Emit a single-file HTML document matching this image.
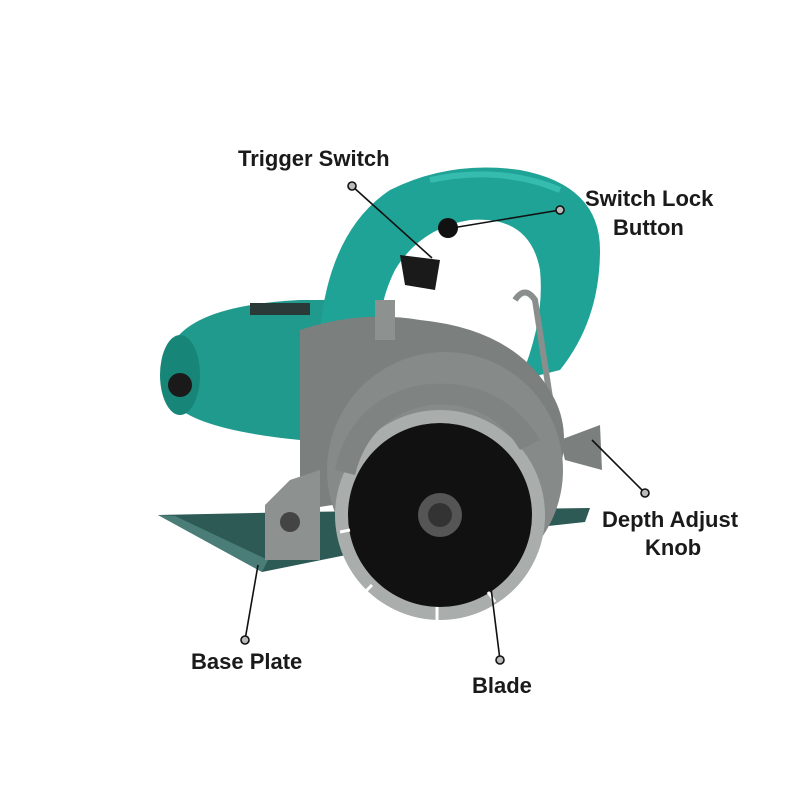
<!DOCTYPE html>
<html><head><meta charset="utf-8"><style>
html,body{margin:0;padding:0;background:#fff;}
svg{display:block}
text{font-family:"Liberation Sans",sans-serif;font-weight:bold;font-size:22px;fill:#1a1a1a}
</style></head><body>
<svg width="800" height="800" viewBox="0 0 800 800" xmlns="http://www.w3.org/2000/svg">
<polygon points="158,515 300,512 590,508 585,522 420,540 262,572" fill="#2d5a55"/>
<polygon points="158,515 262,572 268,560 175,516" fill="#4a7d77"/>
<path d="M175,340 Q200,305 300,300 L370,300 L390,420 L300,440 Q200,430 175,405 Z" fill="#1f9a8c"/>
<ellipse cx="180" cy="375" rx="20" ry="40" fill="#178578"/>
<circle cx="180" cy="385" r="12" fill="#1a1a1a"/>
<rect x="250" y="303" width="60" height="12" fill="#2a3a38"/>
<path d="M320,330 Q330,230 390,190 Q450,160 520,170 Q600,185 600,250 Q600,320 560,370 L520,380 Q545,320 540,270 Q530,215 470,220 Q420,228 395,270 Q380,300 380,330 Z" fill="#1fa396"/>
<path d="M430,180 Q500,165 560,190" stroke="#36bcae" stroke-width="6" fill="none"/>
<path d="M400,255 L440,260 L435,290 L405,285 Z" fill="#1a1a1a"/>
<circle cx="448" cy="228" r="10" fill="#111"/>
<path d="M515,300 Q525,285 535,300 L555,430" stroke="#8a8f8e" stroke-width="6" fill="none"/>
<path d="M300,330 Q360,310 420,320 Q520,330 555,400 Q570,430 560,470 L300,510 Z" fill="#7b7f7e"/>
<path d="M265,505 L290,480 L320,470 L320,560 L265,560 Z" fill="#8d9190"/>
<circle cx="290" cy="522" r="10" fill="#444"/>
<path d="M375,300 L395,300 L395,340 L375,340 Z" fill="#8d9190"/>
<circle cx="445" cy="470" r="118" fill="#868a89"/>
<path d="M560,440 L600,425 L602,470 L565,460 Z" fill="#7b7f7e"/>
<circle cx="440" cy="515" r="105" fill="#a9adac"/>
<circle cx="440" cy="515" r="92" fill="#111"/>
<g stroke="#fff" stroke-width="3">
<line x1="350" y1="530" x2="340" y2="532"/>
<line x1="372" y1="585" x2="365" y2="592"/>
<line x1="437" y1="607" x2="437" y2="620"/>
<line x1="488" y1="592" x2="495" y2="602"/>
</g>
<circle cx="440" cy="515" r="22" fill="#555"/>
<circle cx="440" cy="515" r="12" fill="#333"/>
<path d="M335,470 Q350,400 420,385 Q500,375 540,440 L520,450 Q490,400 430,405 Q370,415 355,475 Z" fill="#7f8382"/>
<g stroke="#111" stroke-width="1.6" fill="#bbb">
<line x1="352" y1="186" x2="432" y2="258"/>
<line x1="560" y1="210" x2="452" y2="228"/>
<line x1="645" y1="493" x2="592" y2="440"/>
<line x1="245" y1="640" x2="258" y2="565"/>
<line x1="500" y1="660" x2="490" y2="580"/>
<circle cx="352" cy="186" r="4"/>
<circle cx="560" cy="210" r="4"/>
<circle cx="645" cy="493" r="4"/>
<circle cx="245" cy="640" r="4"/>
<circle cx="500" cy="660" r="4"/>
</g>
<text x="238" y="166">Trigger Switch</text>
<text x="585" y="206">Switch Lock</text>
<text x="613" y="235">Button</text>
<text x="602" y="527">Depth Adjust</text>
<text x="645" y="555">Knob</text>
<text x="191" y="669">Base Plate</text>
<text x="472" y="693">Blade</text>
</svg>
</body></html>
